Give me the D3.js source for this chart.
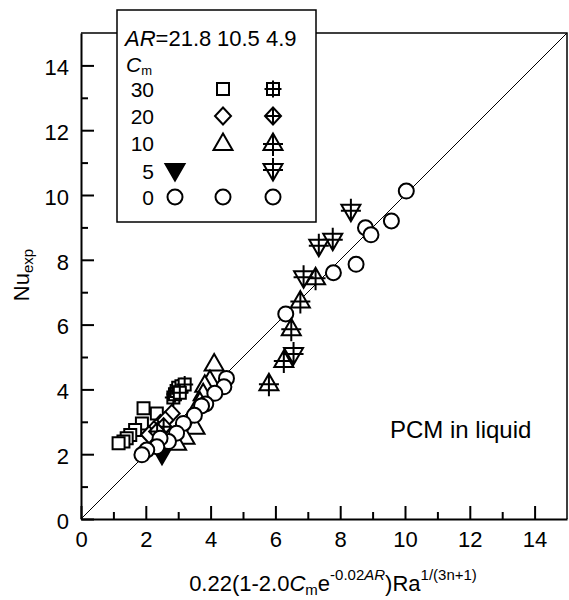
<!DOCTYPE html>
<html>
<head>
<meta charset="utf-8">
<script src="https://cdn.jsdelivr.net/npm/d3@7"></script>
<style>
  body { margin: 0; background: #fff; }
  text { font-family: Arial, "Liberation Sans", sans-serif; fill: #000; }
</style>
</head>
<body>
<svg id="chart" width="569" height="600"></svg>
<script>
// ticks
const majorTicks = [0, 2, 4, 6, 8, 10, 12, 14];
const minorTicks = [1, 3, 5, 7, 9, 11, 13];

// legend
const arValues = ["21.8", "10.5", "4.9"];
const cmValues = ["30", "20", "10", "5", "0"];

// data: [predicted, Nu_exp]
// Cm = 0, all AR
const circles = [
  [10.04, 10.12], [9.58, 9.2], [8.78, 8.99], [8.95, 8.77], [8.49, 7.86], [7.79, 7.6],
  [6.32, 6.33], [4.49, 4.34], [4.41, 4.08], [4.13, 3.88], [3.85, 3.55], [3.72, 3.49],
  [3.5, 3.2], [3.16, 2.95], [2.95, 2.65], [2.7, 2.39], [2.44, 2.49], [2.34, 2.23],
  [2.03, 2.13], [1.88, 1.98]
];
// AR = 21.8, Cm = 5
const filledDown = [[2.5, 1.98]];
// AR = 10.5
const squares = [[1.93, 3.42], [1.88, 2.95], [2.34, 3.26], [1.67, 2.75], [1.52, 2.59], [1.41, 2.49], [1.31, 2.39], [1.16, 2.34]];
const diamonds = [[2.8, 3.26], [2.45, 2.95], [2.25, 2.75], [2.1, 2.6], [2.6, 3.05]];
const upTri = [[4.11, 4.8], [3.98, 4.29], [3.82, 4.14], [3.77, 3.88], [3.67, 3.62], [3.52, 2.85], [3.21, 2.54], [2.95, 2.35]];
// AR = 4.9
const sqCross = [[2.85, 3.75], [2.9, 3.85], [2.95, 3.95], [3.0, 4.05], [3.1, 4.1], [3.2, 4.15], [3.05, 3.9]];
const diaCross = [[2.55, 2.85], [2.35, 2.7]];
const upTriCross = [[7.24, 7.46], [6.77, 6.74], [6.49, 5.89], [6.26, 4.91], [5.8, 4.19]];
const downTriCross = [[8.33, 9.48], [7.77, 8.59], [7.34, 8.4], [6.87, 7.43], [6.56, 5.06]];

// marker outlines, centred on 0,0
const shapes = {
  circle: "M7.5,0A7.5,7.5 0 1,1 -7.5,0A7.5,7.5 0 1,1 7.5,0Z",
  square: "M-6,-6H6V6H-6Z",
  diamond: "M0,-8.5L8,0L0,8.5L-8,0Z",
  up: "M0,-9.5L9.5,7L-9.5,7Z",
  down: "M0,9.5L9.5,-7L-9.5,-7Z",
  squareX: "M-6,-6H6V6H-6Z M-8.5,0H8.5 M0,-8.5V8.5",
  diamondX: "M0,-8.5L8,0L0,8.5L-8,0Z M-8,0H8 M0,-8.5V8.5",
  upX: "M0,-9.5L9.5,7L-9.5,7Z M-10,1H10 M0,-9.5V13",
  downX: "M0,9.5L9.5,-7L-9.5,-7Z M-10,-1H10 M0,-13V9.5"
};

const svg = d3.select("#chart");

const x = d3.scaleLinear().domain([0, 15]).range([81, 567]);
const y = d3.scaleLinear().domain([0, 15]).range([519, 33]);

// diagonal y = x
svg.append("line")
  .attr("x1", x(0)).attr("y1", y(0))
  .attr("x2", x(15)).attr("y2", y(15))
  .attr("stroke", "#000").attr("stroke-width", 1);

// axes with inward ticks
const xAxis = svg.append("g").attr("transform", `translate(0,${y(0)})`)
  .call(d3.axisBottom(x).tickValues(majorTicks).tickSize(-13).tickSizeOuter(0).tickPadding(12).tickFormat(d3.format("d")));
svg.append("g").attr("transform", `translate(0,${y(0)})`)
  .call(d3.axisBottom(x).tickValues(minorTicks).tickSize(-7).tickFormat(""))
  .select(".domain").remove();

const yAxis = svg.append("g").attr("transform", `translate(${x(0)},0)`)
  .call(d3.axisLeft(y).tickValues(majorTicks).tickSize(-13).tickSizeOuter(0).tickPadding(12).tickFormat(d3.format("d")));
svg.append("g").attr("transform", `translate(${x(0)},0)`)
  .call(d3.axisLeft(y).tickValues(minorTicks).tickSize(-7).tickFormat(""))
  .select(".domain").remove();

svg.selectAll(".tick line, .domain").attr("stroke", "#000").attr("stroke-width", 2);
svg.selectAll(".tick text").attr("font-size", 22).attr("font-family", "Arial, 'Liberation Sans', sans-serif").attr("fill", "#000");
yAxis.selectAll(".tick text").attr("dy", "0.42em");
xAxis.selectAll(".tick text").attr("dy", "0.72em");

// top and right frame
svg.append("path")
  .attr("d", `M${x(0)},${y(15)}H${x(15)}V${y(0)}`)
  .attr("fill", "none").attr("stroke", "#000").attr("stroke-width", 1.5);

// markers
function drawSeries(data, shape, fill) {
  svg.append("g").selectAll("path")
    .data(data)
    .join("path")
    .attr("d", shapes[shape])
    .attr("transform", d => `translate(${x(d[0])},${y(d[1])})`)
    .attr("fill", fill || "#fff")
    .attr("stroke", "#000")
    .attr("stroke-width", 2);
}
drawSeries(squares, "square");
drawSeries(sqCross, "squareX");
drawSeries(diamonds, "diamond");
drawSeries(diaCross, "diamondX");
drawSeries(upTri, "up");
drawSeries(filledDown, "down", "#000");
drawSeries(circles, "circle");
drawSeries(upTriCross, "upX");
drawSeries(downTriCross, "downX");

// PCM in liquid
svg.append("text").attr("x", 390).attr("y", 438).attr("font-size", 24).text("PCM in liquid");

// axis titles
const xt = svg.append("text").attr("x", 333).attr("y", 591).attr("text-anchor", "middle").attr("font-size", 22);
xt.append("tspan").text("0.22(1-2.0");
xt.append("tspan").attr("font-style", "italic").text("C");
xt.append("tspan").attr("font-size", 15).attr("dy", 4).text("m");
xt.append("tspan").attr("dy", -4).text("e");
xt.append("tspan").attr("font-size", 15).attr("dy", -11).text("-0.02");
xt.append("tspan").attr("font-size", 15).attr("font-style", "italic").text("AR");
xt.append("tspan").attr("dy", 11).text(")Ra");
xt.append("tspan").attr("font-size", 15).attr("dy", -11).text("1/(3n+1)");

const yt = svg.append("text").attr("transform", "translate(29,275) rotate(-90)").attr("text-anchor", "middle").attr("font-size", 22);
yt.append("tspan").text("Nu");
yt.append("tspan").attr("font-size", 15).attr("dy", 4).text("exp");

// legend
const lg = svg.append("g");
lg.append("rect").attr("x", 117).attr("y", 10).attr("width", 199).attr("height", 212)
  .attr("fill", "#fff").attr("stroke", "#000").attr("stroke-width", 1.5);
const arT = lg.append("text").attr("y", 46).attr("font-size", 22);
arT.append("tspan").attr("x", 125).attr("font-style", "italic").text("AR");
arT.append("tspan").text("=" + arValues[0]);
arT.append("tspan").attr("x", 217).text(arValues[1]);
arT.append("tspan").attr("x", 266).text(arValues[2]);
const cmT = lg.append("text").attr("x", 126).attr("y", 72).attr("font-size", 21);
cmT.append("tspan").attr("font-style", "italic").text("C");
cmT.append("tspan").attr("font-size", 13).attr("dy", 3).text("m");

const rowY = [89, 116, 143, 171, 197];
const colX = [175, 223, 273];
lg.selectAll("text.cm").data(cmValues).join("text").attr("class", "cm")
  .attr("x", 154).attr("y", (d, i) => rowY[i] + 8).attr("text-anchor", "end").attr("font-size", 21).text(d => d);

const legendItems = [
  { row: 0, col: 1, shape: "square" }, { row: 0, col: 2, shape: "squareX" },
  { row: 1, col: 1, shape: "diamond" }, { row: 1, col: 2, shape: "diamondX" },
  { row: 2, col: 1, shape: "up" }, { row: 2, col: 2, shape: "upX" },
  { row: 3, col: 0, shape: "down", fill: "#000" }, { row: 3, col: 2, shape: "downX" },
  { row: 4, col: 0, shape: "circle" }, { row: 4, col: 1, shape: "circle" }, { row: 4, col: 2, shape: "circle" }
];
lg.selectAll("path.item").data(legendItems).join("path").attr("class", "item")
  .attr("d", d => shapes[d.shape])
  .attr("transform", d => `translate(${colX[d.col]},${rowY[d.row]})`)
  .attr("fill", d => d.fill || "#fff").attr("stroke", "#000").attr("stroke-width", 2);
</script>
</body>
</html>
